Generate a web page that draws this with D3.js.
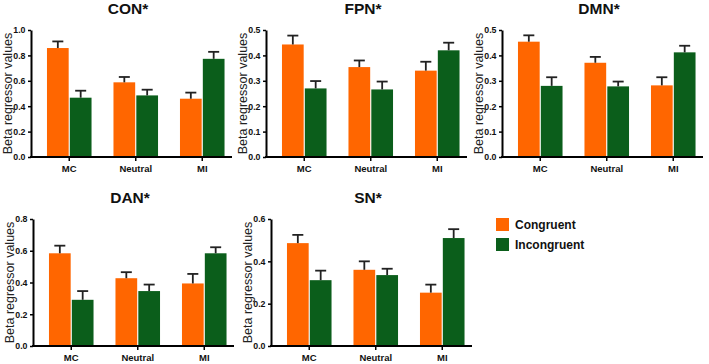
<!DOCTYPE html>
<html>
<head>
<meta charset="utf-8">
<script src="https://cdn.jsdelivr.net/npm/d3@7"></script>
<style>
  body { margin: 0; background: #fff; }
  svg { display: block; font-family: Arial, "Liberation Sans", sans-serif; }
</style>
</head>
<body>
<div id="chart"></div>
<script>
// --------------------------------------
//  Data
// --------------------------------------

const networks = ["CON*", "FPN*", "DMN*", "DAN*", "SN*"];
const categories = ["MC", "Neutral", "MI"];
const conditions = ["Congruent", "Incongruent"];

const congruentMean = [
  [0.858, 0.588, 0.459],
  [0.443, 0.354, 0.340],
  [0.454, 0.371, 0.282],
  [0.584, 0.427, 0.394],
  [0.486, 0.360, 0.252]
];
const congruentErr = [
  [0.052, 0.042, 0.048],
  [0.035, 0.026, 0.035],
  [0.025, 0.023, 0.032],
  [0.048, 0.038, 0.060],
  [0.039, 0.040, 0.038]
];
const incongruentMean = [
  [0.467, 0.485, 0.773],
  [0.270, 0.266, 0.420],
  [0.280, 0.278, 0.412],
  [0.291, 0.346, 0.584],
  [0.311, 0.335, 0.510]
];
const incongruentErr = [
  [0.055, 0.045, 0.055],
  [0.029, 0.031, 0.030],
  [0.034, 0.019, 0.026],
  [0.055, 0.041, 0.038],
  [0.045, 0.030, 0.042]
];

const yTicks = [
  [0, 0.2, 0.4, 0.6, 0.8, 1.0],
  [0, 0.1, 0.2, 0.3, 0.4, 0.5],
  [0, 0.1, 0.2, 0.3, 0.4, 0.5],
  [0, 0.2, 0.4, 0.6, 0.8],
  [0, 0.2, 0.4, 0.6]
];

// --------------------------------------
//  Canvas
// --------------------------------------

const width = 709, height = 364;
const colors = ["#FF6600", "#0B5E1B"];

const svg = d3.select("#chart")
  .append("svg")
    .attr("width", width)
    .attr("height", height)
    .attr("viewBox", [0, 0, width, height]);

// panel positions (left = y-axis line, top = plot top)
const panelPos = [
  { left: 31, top: 30 },
  { left: 266, top: 30 },
  { left: 502, top: 30 },
  { left: 33, top: 219 },
  { left: 271, top: 219 }
];
const innerwidth = 201, innerheight = 127;

// --------------------------------------
//  Panels
// --------------------------------------

networks.forEach((name, i) => {
  const pos = panelPos[i];
  const g = svg.append("g")
    .attr("transform", `translate(${pos.left}, ${pos.top})`);

  const rows = categories.map((c, j) => ({
    category: c,
    values: [
      { cond: conditions[0], mean: congruentMean[i][j], err: congruentErr[i][j] },
      { cond: conditions[1], mean: incongruentMean[i][j], err: incongruentErr[i][j] }
    ]
  }));

  const ticks = yTicks[i];
  const y = d3.scaleLinear()
    .domain([0, ticks[ticks.length - 1]])
    .range([innerheight, 0]);

  const x0 = d3.scaleBand()
    .domain(categories)
    .range([5, 204.5])
    .paddingInner(0.33)
    .paddingOuter(0.165);

  const x1 = d3.scaleBand()
    .domain(conditions)
    .range([0, x0.bandwidth()])
    .paddingInner(0.05);

  // bars
  const groups = g.append("g")
    .selectAll("g")
    .data(rows)
    .join("g")
      .attr("transform", d => `translate(${x0(d.category)}, 0)`);

  groups.selectAll("rect")
    .data(d => d.values)
    .join("rect")
      .attr("x", d => x1(d.cond))
      .attr("y", d => y(d.mean))
      .attr("width", x1.bandwidth())
      .attr("height", d => y(0) - y(d.mean))
      .attr("fill", (d, k) => colors[k]);

  // error bars (upper half only)
  const eb = groups.selectAll("g.err")
    .data(d => d.values)
    .join("g")
      .attr("class", "err")
      .attr("stroke", "#222")
      .attr("stroke-width", 1.8);

  eb.append("line")
    .attr("x1", d => x1(d.cond) + x1.bandwidth() / 2)
    .attr("x2", d => x1(d.cond) + x1.bandwidth() / 2)
    .attr("y1", d => y(d.mean))
    .attr("y2", d => y(d.mean + d.err));

  eb.append("line")
    .attr("x1", d => x1(d.cond) + x1.bandwidth() / 2 - 5.5)
    .attr("x2", d => x1(d.cond) + x1.bandwidth() / 2 + 5.5)
    .attr("y1", d => y(d.mean + d.err))
    .attr("y2", d => y(d.mean + d.err));

  // y axis
  const yAxis = g.append("g")
    .call(d3.axisLeft(y)
      .tickValues(ticks)
      .tickSize(3)
      .tickSizeOuter(0)
      .tickPadding(2.5)
      .tickFormat(d3.format(".1f")));
  yAxis.select(".domain").attr("stroke-width", 2);
  yAxis.selectAll(".tick line").attr("stroke-width", 1.5);
  yAxis.selectAll("text")
    .attr("font-size", 8.8)
    .attr("font-weight", "bold")
    .attr("font-family", "Arial, 'Liberation Sans', sans-serif")
    .attr("fill", "#111");

  // x axis
  const xAxis = g.append("g")
    .attr("transform", `translate(0, ${innerheight})`)
    .call(d3.axisBottom(x0)
      .tickSize(4)
      .tickSizeOuter(0)
      .tickPadding(4));
  xAxis.select(".domain").remove();
  xAxis.append("line")
    .attr("x1", -1)
    .attr("x2", innerwidth)
    .attr("stroke", "#000")
    .attr("stroke-width", 2);
  xAxis.selectAll(".tick line").attr("stroke-width", 1.5);
  xAxis.selectAll("text")
    .attr("font-size", 9.5)
    .attr("font-weight", "bold")
    .attr("font-family", "Arial, 'Liberation Sans', sans-serif")
    .attr("fill", "#111");

  // title
  g.append("text")
    .attr("x", 97)
    .attr("y", -16)
    .attr("text-anchor", "middle")
    .attr("font-size", 15.5)
    .attr("font-weight", "bold")
    .attr("fill", "#111")
    .text(name);

  // y label
  g.append("text")
    .attr("transform", `translate(-19, ${innerheight / 2}) rotate(-90)`)
    .attr("text-anchor", "middle")
    .attr("font-size", 12.5)
    .attr("fill", "#222")
    .text("Beta regressor values");
});

// --------------------------------------
//  Legend
// --------------------------------------

const legend = svg.append("g")
  .attr("transform", "translate(496, 218)");

const items = legend.selectAll("g")
  .data(conditions)
  .join("g")
    .attr("transform", (d, k) => `translate(0, ${k * 20})`);

items.append("rect")
  .attr("width", 13)
  .attr("height", 13)
  .attr("fill", (d, k) => colors[k]);

items.append("text")
  .attr("x", 19)
  .attr("y", 11)
  .attr("font-size", 12)
  .attr("font-weight", "bold")
  .attr("fill", "#111")
  .text(d => d);
</script>
</body>
</html>
